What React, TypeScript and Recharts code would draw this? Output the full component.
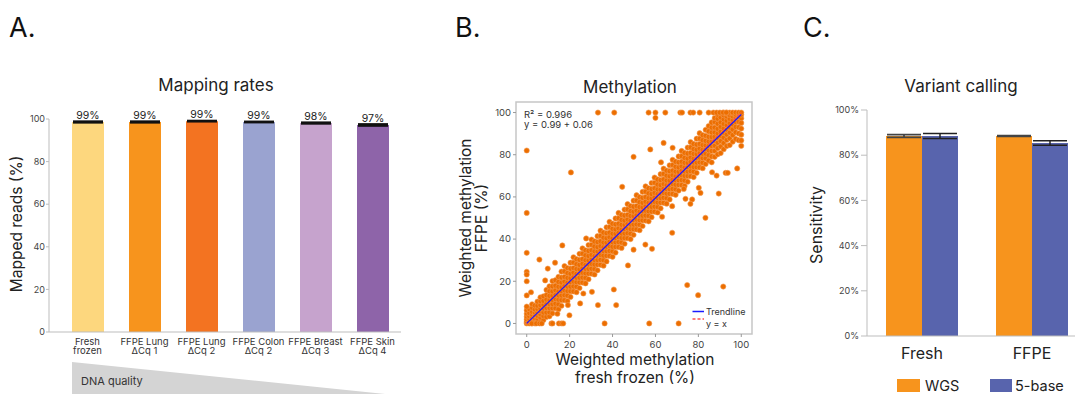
import {
  Bar,
  BarChart,
  Cell,
  ErrorBar,
  LabelList,
  ReferenceArea,
  Scatter,
  ScatterChart,
  XAxis,
  YAxis,
} from 'recharts'

// A. Mapping rates
const MAPPING_LABELS = [
  'Fresh\nfrozen',
  'FFPE Lung\nΔCq 1',
  'FFPE Lung\nΔCq 2',
  'FFPE Colon\nΔCq 2',
  'FFPE Breast\nΔCq 3',
  'FFPE Skin\nΔCq 4',
]
const MAPPING_VALUES = [98.6, 98.6, 99.0, 98.6, 98.1, 97.2]
const MAPPING_ERRORS = [0.3, 0.3, 0.2, 0.2, 0.3, 0.4]
const MAPPING_COLORS = ['#fdd77e', '#f7941d', '#f37321', '#9aa3d0', '#c6a3cd', '#8e64a9']
const MAPPING_TICKS = [0, 20, 40, 60, 80, 100]

// B. Methylation (weighted %, fresh frozen vs FFPE)
const TREND_SLOPE = 0.99
const TREND_INTERCEPT = 0.06
const METHYL_TICKS = [0, 20, 40, 60, 80, 100]
// cuerpo denso leído por columnas: [x, valores y]
const BAND_COLUMNS: [number, number[]][] = [
  [0, [0, 0.4, 1.1, 2, 3.2, 4.6, 6.3]],
  [1.2, [0, 0.9, 2.2, 3.4, 4.9, 6.8]],
  [2.5, [0, 0.5, 1.6, 2.8, 4.1, 5.5, 7.4, 9.1]],
  [3.8, [0, 1.3, 2.5, 3.9, 5.2, 6.6, 8.5]],
  [5, [0.8, 2.1, 3.6, 5.2, 6.8, 8.4, 10.4]],
  [6.4, [0.9, 2.8, 4.3, 5.8, 7.1, 8.7, 10.6, 12.4]],
  [7.8, [1.6, 3.5, 5.2, 7.1, 8.8, 10.7, 12.9]],
  [9.2, [3.1, 5.2, 7.4, 9.3, 11.3, 13.4, 15.9]],
  [10.6, [3.4, 5.3, 7.3, 9.2, 11, 13.1, 15.3, 17.6]],
  [12, [4.8, 7.2, 9.2, 11.2, 13.1, 15.2, 17.6, 20.1]],
  [13.4, [7.2, 9.4, 11.6, 13.6, 15.7, 17.9, 20.5]],
  [14.8, [6.7, 9.1, 11.3, 13.3, 15.2, 17.4, 19.7, 22.1]],
  [16.2, [8.4, 11.1, 13.3, 15.4, 17.3, 19.4, 21.8, 24.6]],
  [17.6, [11, 13.4, 15.7, 17.8, 19.9, 22.1, 24.7, 27.2]],
  [19, [10.6, 13.2, 15.4, 17.5, 19.4, 21.6, 23.9, 26.3]],
  [20.4, [12.6, 15.3, 17.5, 19.6, 21.5, 23.6, 26, 28.8]],
  [21.8, [15.2, 17.6, 19.9, 22, 24.1, 26.3, 28.9, 31.4]],
  [23.2, [14.8, 17.4, 19.6, 21.7, 23.6, 25.8, 28.1, 30.5]],
  [24.6, [16.8, 19.5, 21.7, 23.8, 25.7, 27.8, 30.2, 33]],
  [26, [19.4, 21.8, 24.1, 26.2, 28.3, 30.5, 33.1, 35.6]],
  [27.4, [19, 21.6, 23.8, 25.9, 27.8, 30, 32.3, 34.7]],
  [28.8, [21, 23.7, 25.9, 28, 29.9, 32, 34.4, 37.2]],
  [30.2, [23.6, 26, 28.3, 30.4, 32.5, 34.7, 37.3, 39.8]],
  [31.6, [23.2, 25.8, 28, 30.1, 32, 34.2, 36.5, 38.9]],
  [33, [25.2, 27.9, 30.1, 32.2, 34.1, 36.2, 38.6, 41.4]],
  [34.4, [27.8, 30.2, 32.5, 34.6, 36.7, 38.9, 41.5, 44]],
  [35.8, [27.4, 30, 32.2, 34.3, 36.2, 38.4, 40.7, 43.1]],
  [37.2, [29.4, 32.1, 34.3, 36.4, 38.3, 40.4, 42.8, 45.6]],
  [38.6, [32, 34.4, 36.7, 38.8, 40.9, 43.1, 45.7, 48.2]],
  [40, [31.6, 34.2, 36.4, 38.5, 40.4, 42.6, 44.9, 47.3]],
  [41.4, [33.6, 36.3, 38.5, 40.6, 42.5, 44.6, 47, 49.8]],
  [42.8, [36.2, 38.6, 40.9, 43, 45.1, 47.3, 49.9, 52.4]],
  [44.2, [35.8, 38.4, 40.6, 42.7, 44.6, 46.8, 49.1, 51.5]],
  [45.6, [37.8, 40.5, 42.7, 44.8, 46.7, 48.8, 51.2, 54]],
  [47, [40.4, 42.8, 45.1, 47.2, 49.3, 51.5, 54.1, 56.6]],
  [48.4, [40, 42.6, 44.8, 46.9, 48.8, 51, 53.3, 55.7]],
  [49.8, [42, 44.7, 46.9, 49, 50.9, 53, 55.4, 58.2]],
  [51.2, [44.6, 47, 49.3, 51.4, 53.5, 55.7, 58.3, 60.8]],
  [52.6, [44.2, 46.8, 49, 51.1, 53, 55.2, 57.5, 59.9]],
  [54, [46.2, 48.9, 51.1, 53.2, 55.1, 57.2, 59.6, 62.4]],
  [55.4, [48.8, 51.2, 53.5, 55.6, 57.7, 59.9, 62.5, 65]],
  [56.8, [48.4, 51, 53.2, 55.3, 57.2, 59.4, 61.7, 64.1]],
  [58.2, [50.4, 53.1, 55.3, 57.4, 59.3, 61.4, 63.8, 66.6]],
  [59.6, [53, 55.4, 57.7, 59.8, 61.9, 64.1, 66.7, 69.2]],
  [61, [52.6, 55.2, 57.4, 59.5, 61.4, 63.6, 65.9, 68.3]],
  [62.4, [54.6, 57.3, 59.5, 61.6, 63.5, 65.6, 68, 70.8]],
  [63.8, [57.2, 59.6, 61.9, 64, 66.1, 68.3, 70.9, 73.4]],
  [65.2, [56.8, 59.4, 61.6, 63.7, 65.6, 67.8, 70.1, 72.5]],
  [66.6, [58.8, 61.5, 63.7, 65.8, 67.7, 69.8, 72.2, 75]],
  [68, [61.4, 63.8, 66.1, 68.2, 70.3, 72.5, 75.1, 77.6]],
  [69.4, [61, 63.6, 65.8, 67.9, 69.8, 72, 74.3, 76.7]],
  [70.8, [63, 65.7, 67.9, 70, 71.9, 74, 76.4, 79.2]],
  [72.2, [65.6, 68, 70.3, 72.4, 74.5, 76.7, 79.3, 81.8]],
  [73.6, [65.2, 67.8, 70, 72.1, 74, 76.2, 78.5, 80.9]],
  [75, [67.2, 69.9, 72.1, 74.2, 76.1, 78.2, 80.6, 83.4]],
  [76.4, [69.8, 72.2, 74.5, 76.6, 78.7, 80.9, 83.5, 86]],
  [77.8, [69.4, 72, 74.2, 76.3, 78.2, 80.4, 82.7, 85.1]],
  [79.2, [71.4, 74.1, 76.3, 78.4, 80.3, 82.4, 84.8, 87.6]],
  [80.6, [74, 76.4, 78.7, 80.8, 82.9, 85.1, 87.7, 90.2]],
  [82, [73.6, 76.2, 78.4, 80.5, 82.4, 84.6, 86.9, 89.3]],
  [83.4, [75.6, 78.3, 80.5, 82.6, 84.5, 86.6, 89, 91.8]],
  [84.8, [77.2, 79.8, 82.1, 84.2, 86.3, 88.5, 91.1, 93.6]],
  [86.2, [76.4, 79.2, 81.8, 84.2, 86.3, 88.4, 90.6, 92.9, 95.3]],
  [87.6, [79, 81.8, 84.3, 86.6, 88.5, 90.6, 92.9, 95.5, 97.4]],
  [89, [80.2, 83.1, 85.7, 88, 90.1, 92.3, 94.7, 97.1, 99]],
  [90.4, [80.8, 83.9, 86.5, 88.9, 91, 93.2, 95.4, 97.7, 99.6]],
  [91.8, [82.6, 85.5, 88.1, 90.4, 92.5, 94.6, 96.8, 98.7, 100]],
  [93.2, [84.1, 87, 89.6, 91.9, 94, 96.1, 98.1, 99.5, 100]],
  [94.6, [84.6, 87.8, 90.5, 92.9, 95, 97, 98.8, 100]],
  [96, [86.2, 89.3, 92, 94.4, 96.4, 98.2, 99.6, 100]],
  [97.4, [87.5, 90.6, 93.2, 95.5, 97.5, 99, 100]],
  [98.8, [86.9, 90.1, 93, 95.6, 97.8, 99.4, 100]],
  [100, [84.2, 86.8, 89.5, 92.4, 95.1, 97.3, 99, 100]],
]
// puntos sueltos fuera del cuerpo
const OUTLIERS: [number, number][] = [
  [33.2, 100], [40.8, 100], [56.8, 100], [60, 100], [64.6, 100], [71.6, 100], [72.4, 100],
  [76.3, 100], [77.6, 100], [80.6, 100], [84.8, 100], [87, 100], [88.5, 100], [90, 100],
  [91.5, 100], [93, 100], [60, 97.5],
  [0, 82], [0, 52.4], [0, 33.5], [0, 24.5], [0, 23.2], [0, 20], [0, 13.3], [0, 8],
  [20.6, 71.6], [49.8, 79], [57.6, 82.5], [63.8, 85.6], [62.6, 76.4], [68, 83.3], [44.5, 64.8],
  [16.6, 37], [27.7, 40.3], [5.9, 30.3], [9.8, 26], [8.6, 20.4], [2, 14.8], [13.2, 28.8],
  [98.1, 73.5], [92.7, 71.4], [93.7, 71.4], [86.4, 71.7], [88.5, 70.1], [80.2, 64.3],
  [89.5, 61.6], [81, 61.9], [77.1, 58.8], [76.3, 56.7], [74, 59.1], [83.3, 50.1], [63.1, 50.6],
  [67.8, 55.6], [73.2, 63.8], [67.8, 43], [55.3, 37.4], [58.4, 35.4], [49.8, 35],
  [74.8, 18.2], [79.9, 13.4], [91.6, 17.5], [57.1, 0], [70.8, 0], [36.3, 0],
  [47.2, 27.5], [40.6, 16.1], [30.4, 15], [26.4, 14.2], [24.9, 9.5], [33.2, 8.7], [41.7, 8.7],
  [19.2, 8.7], [19.9, 3.9], [14.3, 4.6],
  [2.3, 0], [4.5, 0], [6, 0], [7, 0], [11.5, 0], [12, 0], [15, 0], [16.2, 0], [17, 0],
]

// C. Variant calling
const VARIANT_GROUPS = ['Fresh', 'FFPE']
const WGS_VALUES = [88.5, 88.5]
const WGS_ERRORS = [0.6, 0.2]
const FIVE_BASE_VALUES = [88.5, 85.4]
const FIVE_BASE_ERRORS = [1.1, 1.0]
const VARIANT_TICKS = [0, 20, 40, 60, 80, 100]

const COLOR_WGS = '#f7941d'
const COLOR_FIVE = '#5864ad'
const AXIS_GRAY = '#bdbdbd'
const FONT = 'Inter, "Noto Sans", sans-serif'

const mappingData = MAPPING_LABELS.map((name, i) => ({
  name,
  value: MAPPING_VALUES[i],
  err: MAPPING_ERRORS[i],
}))

const methylData = [
  ...BAND_COLUMNS.flatMap(([x, ys]) => ys.map((y) => ({ x, y }))),
  ...OUTLIERS.map(([x, y]) => ({ x, y })),
]
const identityLine = [
  { x: 0, y: 0 },
  { x: 100, y: 100 },
]
const trendLine = [
  { x: 0, y: TREND_INTERCEPT },
  { x: 100, y: TREND_SLOPE * 100 + TREND_INTERCEPT },
]

const variantData = VARIANT_GROUPS.map((name, i) => ({
  name,
  wgs: WGS_VALUES[i],
  wgsErr: WGS_ERRORS[i],
  five: FIVE_BASE_VALUES[i],
  fiveErr: FIVE_BASE_ERRORS[i],
}))

function MappingTick(props: any) {
  const { x, y, payload } = props
  const [l1, l2] = String(payload.value).split('\n')
  return (
    <g>
      <text x={x} y={y + 13} textAnchor="middle" fontSize={9.5} fill="#333" fontFamily={FONT}>
        {l1}
      </text>
      <text x={x} y={y + 22} textAnchor="middle" fontSize={9.5} fill="#333" fontFamily={FONT}>
        {l2}
      </text>
    </g>
  )
}

function Dot(props: any) {
  const { cx, cy } = props
  return <circle cx={cx} cy={cy} r={2.6} fill="#ec6e00" stroke="#f39a52" strokeWidth={0.6} />
}

const NoDot = () => <g />

const tickStyle = { fontSize: 9, fill: '#444', fontFamily: FONT }

export default function App() {
  return (
    <div
      style={{
        position: 'absolute',
        left: 0,
        top: 0,
        width: 1075,
        height: 394,
        overflow: 'hidden',
        background: '#fff',
        fontFamily: FONT,
      }}
    >
      <div style={{ position: 'absolute', left: 0, top: 0 }}>
        <BarChart width={402} height={394} data={mappingData} margin={{ top: 119, right: 1, bottom: 0, left: 0 }}>
          <XAxis
            dataKey="name"
            height={62}
            interval={0}
            tick={<MappingTick />}
            tickLine={false}
            tickSize={0}
            tickMargin={0}
            axisLine={{ stroke: AXIS_GRAY }}
            padding={{ left: 10, right: 0 }}
          />
          <YAxis
            width={49}
            domain={[0, 100]}
            ticks={MAPPING_TICKS}
            tickSize={3}
            tickMargin={1}
            tick={tickStyle}
            axisLine={{ stroke: AXIS_GRAY }}
            tickLine={{ stroke: AXIS_GRAY }}
          />
          <Bar dataKey="value" barSize={32} isAnimationActive={false}>
            {mappingData.map((d, i) => (
              <Cell key={d.name} fill={MAPPING_COLORS[i]} />
            ))}
            <ErrorBar dataKey="err" width={15} stroke="#111" strokeWidth={2} />
            <LabelList
              dataKey="value"
              position="top"
              offset={3}
              formatter={(v: any) => `${Math.round(Number(v))}%`}
              style={{ fontSize: 10.5, fill: '#222', fontFamily: FONT }}
            />
          </Bar>
        </BarChart>
      </div>

      <div style={{ position: 'absolute', left: 450, top: 0 }}>
        <ScatterChart width={312} height={394} margin={{ top: 102, right: 10, bottom: 0, left: 0 }}>
          <XAxis
            type="number"
            dataKey="x"
            domain={[-5, 105]}
            ticks={METHYL_TICKS}
            height={60}
            axisLine={false}
            tickSize={3}
            tickMargin={4}
            tick={{ ...tickStyle, fontSize: 9.5 }}
            tickLine={{ stroke: '#999' }}
          />
          <YAxis
            type="number"
            dataKey="y"
            domain={[-5, 105]}
            ticks={METHYL_TICKS}
            width={66}
            axisLine={false}
            tickSize={3}
            tickMargin={2}
            tick={{ ...tickStyle, fontSize: 9.5 }}
            tickLine={{ stroke: '#999' }}
          />
          <ReferenceArea x1={-5} x2={105} y1={-5} y2={105} fill="none" stroke="#c6c6c6" strokeWidth={1.5} ifOverflow="visible" />
          <Scatter data={methylData} shape={<Dot />} isAnimationActive={false} />
          <Scatter
            data={identityLine}
            shape={<NoDot />}
            line={{ stroke: '#ff5050', strokeWidth: 1.2, strokeDasharray: '3 2' }}
            isAnimationActive={false}
          />
          <Scatter
            data={trendLine}
            shape={<NoDot />}
            line={{ stroke: '#1a1aff', strokeWidth: 1.2 }}
            isAnimationActive={false}
          />
        </ScatterChart>
      </div>

      <div style={{ position: 'absolute', left: 780, top: 0 }}>
        <BarChart
          width={307}
          height={394}
          data={variantData}
          margin={{ top: 110, right: 0, bottom: 0, left: 0 }}
          barGap={0}
        >
          <XAxis
            dataKey="name"
            height={58}
            tickLine={false}
            tickSize={0}
            tickMargin={12}
            tick={{ fontSize: 16, fill: '#222', fontFamily: FONT }}
            axisLine={{ stroke: AXIS_GRAY }}
          />
          <YAxis
            width={87}
            domain={[0, 100]}
            ticks={VARIANT_TICKS}
            tickFormatter={(v) => `${v}%`}
            tickSize={6}
            tickMargin={2}
            tick={tickStyle}
            axisLine={{ stroke: AXIS_GRAY }}
            tickLine={{ stroke: AXIS_GRAY }}
          />
          <Bar dataKey="wgs" fill={COLOR_WGS} barSize={36} isAnimationActive={false}>
            <ErrorBar dataKey="wgsErr" width={17} stroke="#444" strokeWidth={1.8} />
          </Bar>
          <Bar dataKey="five" fill={COLOR_FIVE} barSize={36} isAnimationActive={false}>
            <ErrorBar dataKey="fiveErr" width={17} stroke="#222" strokeWidth={1.5} />
          </Bar>
        </BarChart>
      </div>

      <svg
        width={1075}
        height={394}
        style={{ position: 'absolute', left: 0, top: 0, pointerEvents: 'none' }}
        fontFamily={FONT}
      >
        <text x={9} y={37} fontSize={27} fill="#111">A.</text>
        <text x={455} y={37} fontSize={27} fill="#111">B.</text>
        <text x={803} y={37} fontSize={27} fill="#111">C.</text>

        <text x={216} y={90.5} fontSize={17} fill="#222" textAnchor="middle">Mapping rates</text>
        <text x={630} y={92.5} fontSize={17} fill="#222" textAnchor="middle">Methylation</text>
        <text x={961} y={91.5} fontSize={17} fill="#222" textAnchor="middle">Variant calling</text>

        <text x={22} y={224} fontSize={15.5} fill="#222" textAnchor="middle" transform="rotate(-90 22 224)">
          Mapped reads (%)
        </text>
        <text x={822} y={225} fontSize={16} fill="#222" textAnchor="middle" transform="rotate(-90 822 225)">
          Sensitivity
        </text>
        <text x={470.5} y={218} fontSize={15.5} fill="#222" textAnchor="middle" transform="rotate(-90 470.5 218)">
          Weighted methylation
        </text>
        <text x={487} y={218} fontSize={15.5} fill="#222" textAnchor="middle" transform="rotate(-90 487 218)">
          FFPE (%)
        </text>
        <text x={635} y={365} fontSize={15.5} fill="#222" textAnchor="middle">Weighted methylation</text>
        <text x={635} y={382.5} fontSize={15.5} fill="#222" textAnchor="middle">fresh frozen (%)</text>

        <text x={524} y={117.5} fontSize={9.5} fill="#333">R² = 0.996</text>
        <text x={524} y={127.5} fontSize={9.5} fill="#333">y = 0.99 + 0.06</text>

        <line x1={692.5} y1={311.5} x2={704} y2={311.5} stroke="#1a1aff" strokeWidth={1.5} />
        <text x={706} y={315} fontSize={9} fill="#333">Trendline</text>
        <line x1={692.5} y1={319} x2={704} y2={319} stroke="#ff5050" strokeWidth={1.5} strokeDasharray="3 2" />
        <text x={706} y={326.5} fontSize={9} fill="#333">y = x</text>

        <polygon points="72,362 72,394 385,394" fill="#d4d4d4" />
        <text x={81} y={385} fontSize={11} fill="#333">DNA quality</text>

        <rect x={897} y={379} width={23} height={13} fill={COLOR_WGS} />
        <text x={925} y={390.5} fontSize={14.5} fill="#222">WGS</text>
        <rect x={990} y={379} width={22} height={13} fill={COLOR_FIVE} />
        <text x={1015} y={390.5} fontSize={14.5} fill="#222">5-base</text>
      </svg>
    </div>
  )
}
